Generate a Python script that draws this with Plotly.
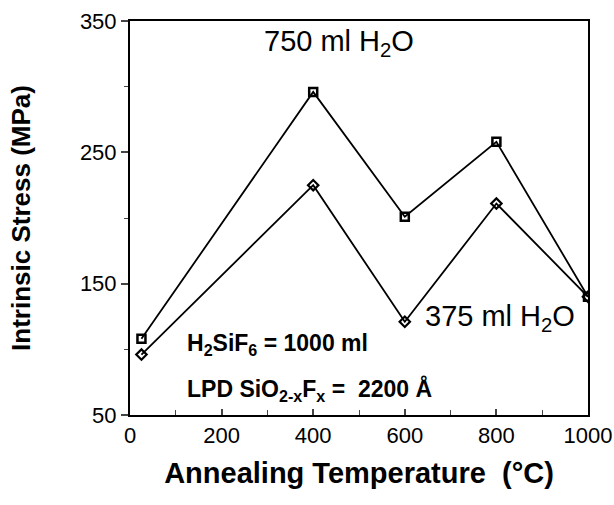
import plotly.graph_objects as go

temps = [25, 400, 600, 800, 1000]
stress_750 = [108, 296, 201, 258, 140]
stress_375 = [96, 225, 121, 211, 140]
x_ticks = [0, 200, 400, 600, 800, 1000]
x_minor = [100, 300, 500, 700, 900]
y_ticks = [50, 150, 250, 350]
y_minor = [100, 200, 300]

fig = go.Figure()
fig.add_trace(go.Scatter(x=temps, y=stress_750, mode="lines+markers",
                         line=dict(color="black", width=1.8),
                         marker=dict(symbol="square-open", size=8, color="black", line=dict(width=2.5)),
                         showlegend=False))
fig.add_trace(go.Scatter(x=temps, y=stress_375, mode="lines+markers",
                         line=dict(color="black", width=1.8),
                         marker=dict(symbol="diamond-open", size=8, color="black", line=dict(width=2.2)),
                         showlegend=False))

font = "Liberation Sans, Arial, sans-serif"
fig.update_layout(
    width=614, height=505,
    margin=dict(l=130, r=26, t=21, b=90),
    paper_bgcolor="white", plot_bgcolor="white",
    font=dict(family=font, color="black", size=22),
    xaxis=dict(range=[0, 1000], tickvals=x_ticks, ticks="inside", ticklen=6,
               tickwidth=1.5, showline=True, linecolor="black", linewidth=2,
               mirror=True, showgrid=False, zeroline=False, automargin=False,
               ticklabeloverflow="allow",
               minor=dict(tickvals=x_minor, ticks="inside", ticklen=5, tickwidth=1.2),
               tickfont=dict(size=22),
               title=dict(text="<b>Annealing Temperature &nbsp;(°C)</b>", font=dict(size=29), standoff=15)),
    yaxis=dict(range=[50, 350], tickvals=y_ticks, ticks="outside", ticklen=7,
               tickwidth=1.5, showline=True, linecolor="black", linewidth=2,
               mirror=True, showgrid=False, zeroline=False, automargin=False,
               minor=dict(tickvals=y_minor, ticks="outside", ticklen=4, tickwidth=1.2),
               tickfont=dict(size=22),
               title=dict(text="<b>Intrinsic Stress (MPa)</b>", font=dict(size=26), standoff=42)),
)

fig.add_annotation(x=456, y=333, xref="x", yref="y", text="750 ml H<sub>2</sub>O",
                   showarrow=False, font=dict(size=29))
fig.add_annotation(x=807, y=124, xref="x", yref="y", text="375 ml H<sub>2</sub>O",
                   showarrow=False, font=dict(size=29))
fig.add_annotation(x=120, y=104, xref="x", yref="y", text="<b>H<sub>2</sub>SiF<sub>6</sub> = 1000 ml</b>",
                   showarrow=False, font=dict(size=23), xanchor="left")
fig.add_annotation(x=120, y=69, xref="x", yref="y", text="<b>LPD SiO<sub>2-x</sub>F<sub>x</sub> = &nbsp;2200 Å</b>",
                   showarrow=False, font=dict(size=23), xanchor="left")

fig.write_html("out.html", config={"displayModeBar": False},
               post_script="document.body.style.margin='0';document.body.style.overflow='hidden';")
